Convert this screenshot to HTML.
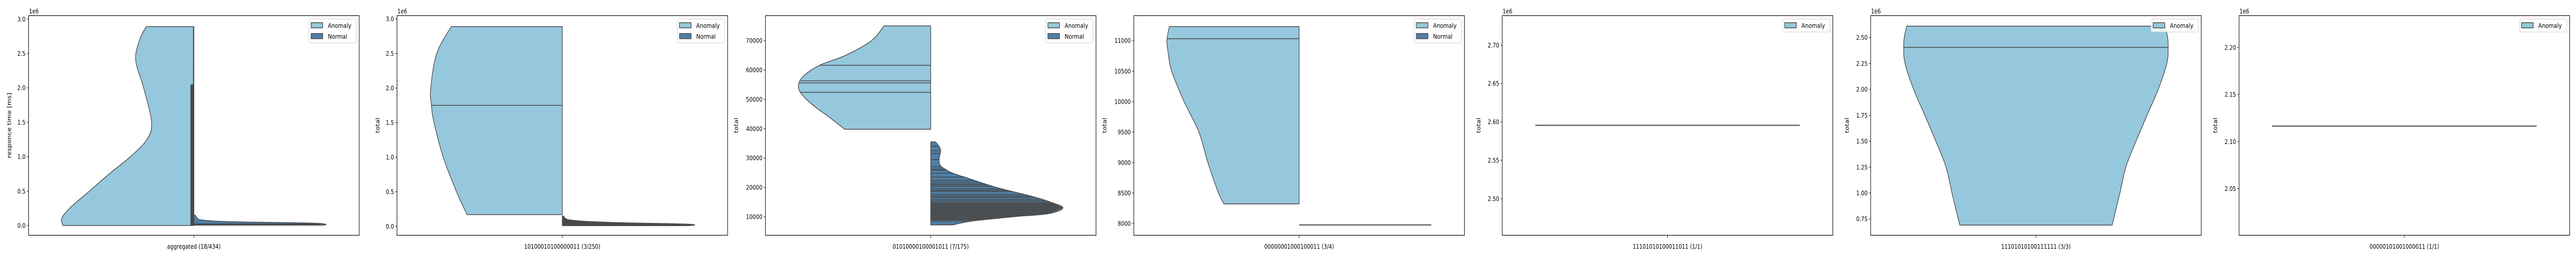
<!DOCTYPE html>
<html><head><meta charset="utf-8">
<style>
html,body{margin:0;padding:0;background:#fff;width:100%;height:100%;overflow:hidden;}
svg{display:block;width:100vw;height:100vh;}
text{font-family:"DejaVu Sans","Liberation Sans",sans-serif;fill:#000;}
</style></head>
<body>
<svg id="fig" viewBox="0 0 6000 500" preserveAspectRatio="none" xmlns="http://www.w3.org/2000/svg"></svg>
<script>
// ---- data ----
const panelLabels = ["aggregated (18/434)","10100010100000011 (3/250)","01010000100001011 (7/175)","00000001000100011 (3/4)","11101010100011011 (1/1)","11101010100111111 (3/3)","00000101001000011 (1/1)"];
const yLabels = ["responce time [ms]","total","total","total","total","total","total"];
const offsetTexts = ["1e6","1e6","","","1e6","1e6","1e6"];
const yDomainsMin = [-0.1424,-0.129,3671,7805,2.4523,0.592,2.0005];
const yDomainsMax = [3.049,3.048,78509,11410,2.7383,2.711,2.2338];
const yTicks0 = [0,0.5,1,1.5,2,2.5,3];
const yTicks1 = [0,0.5,1,1.5,2,2.5,3];
const yTicks2 = [10000,20000,30000,40000,50000,60000,70000];
const yTicks3 = [8000,8500,9000,9500,10000,10500,11000];
const yTicks4 = [2.50,2.55,2.60,2.65,2.70];
const yTicks5 = [0.75,1.00,1.25,1.50,1.75,2.00,2.25,2.50];
const yTicks6 = [2.05,2.10,2.15,2.20];
const tickDecimals = [1,1,0,0,2,2,2];
const legendEntries = [2,2,2,2,1,1,1];

// panel 1 (aggregated)
const p1AnomVals = [2.89,2.7,2.4,2.0,1.5,1.25,1.0,0.75,0.5,0.25,0.1,0.0];
const p1AnomDens = [0.36,0.41,0.44,0.38,0.32,0.355,0.48,0.64,0.79,0.94,1.0,0.99];
const p1NormVals = [0.15,0.1,0.08,0.06,0.05,0.04,0.03,0.015,0.005];
const p1NormDens = [0.01,0.03,0.06,0.2,0.4,0.75,0.95,1.0,0.98];
const p1AnomSticks = [2.89,2.05];
// panel 2
const p2AnomVals = [2.89,2.5,2.0,1.75,1.5,1.0,0.5,0.17];
const p2AnomDens = [0.84,0.95,0.995,0.99,0.97,0.9,0.8,0.72];
const p2AnomQuart = [1.75];
const p2NormVals = [0.15,0.12,0.1,0.09,0.07,0.05,0.04,0.03,0.02,0.01];
const p2NormDens = [0.01,0.02,0.04,0.07,0.2,0.5,0.8,0.97,1.0,0.95];
// panel 3
const p3AnomVals = [75000,70000,65000,61600,58000,55000,52000,48000,44000,39800];
const p3AnomDens = [0.354,0.448,0.643,0.84,0.96,1.0,0.98,0.89,0.77,0.65];
const p3AnomQuart = [61600,56300,55600,52400];
const p3NormVals = [35500,33000,30000,28500,27000,25000,23000,20000,17000,15000,13000,11000,10000,8500,7200];
const p3NormDens = [0.037,0.074,0.065,0.065,0.083,0.158,0.29,0.495,0.76,0.905,1.0,0.885,0.625,0.31,0.167];
const p3NormSticks = [34000,32500,31500,29500,27000,26200,25800,24800,23500,22400,21800,21200,20800,20300,19500,19000,18600,17600,17000,16600,16000,15500,15000,14600,14300,14000,13700,13400,13100,12800,12500,12200,11900,11600,11300,11000,10700,10400,10100,9800,9500,9200,8900,8500];
// panel 4
const p4AnomVals = [11230,11000,10800,10500,10000,9500,9000,8500,8320];
const p4AnomDens = [0.982,1.0,0.99,0.964,0.87,0.758,0.69,0.61,0.568];
const p4AnomQuart = [11030];
const p4NormValue = [7975];
// panel 5
const p5AnomValue = [2.5955];
// panel 6
const p6AnomVals = [2.61,2.5,2.4,2.25,2.0,1.75,1.5,1.25,1.0,0.69];
const p6AnomDens = [0.977,0.996,1.0,0.99,0.925,0.84,0.757,0.68,0.635,0.576];
const p6AnomQuart = [2.405];
// panel 7
const p7AnomValue = [2.1165];

// ---- drawing ----
const NS="http://www.w3.org/2000/svg";
const svg=document.getElementById('fig');
const ANOM="#95c8dd", NORM="#4d7fa8", EDGE="#4a4a4a";
const AX_TOP=30.3, AX_BOT=456, AX_W=770, PITCH=858.1, AX_L0=66.6;
const HALF=0.4*AX_W;
const tickSets=[yTicks0,yTicks1,yTicks2,yTicks3,yTicks4,yTicks5,yTicks6];

function el(tag,attrs,parent){const e=document.createElementNS(NS,tag);for(const k in attrs)e.setAttribute(k,attrs[k]);(parent||svg).appendChild(e);return e;}
function smooth(pts){let d="M"+pts[0][0]+","+pts[0][1];for(let i=0;i<pts.length-1;i++){const p0=pts[Math.max(i-1,0)],p1=pts[i],p2=pts[i+1],p3=pts[Math.min(i+2,pts.length-1)];const c1=[p1[0]+(p2[0]-p0[0])/6,p1[1]+(p2[1]-p0[1])/6],c2=[p2[0]-(p3[0]-p1[0])/6,p2[1]-(p3[1]-p1[1])/6];d+=" C"+c1[0]+","+c1[1]+" "+c2[0]+","+c2[1]+" "+p2[0]+","+p2[1];}return d;}
function densAt(vals,dens,v){for(let i=0;i<vals.length-1;i++){const a=vals[i],b=vals[i+1];if((v<=a&&v>=b)){const t=(a-v)/(a-b);return dens[i]+(dens[i+1]-dens[i])*t;}}return dens[dens.length-1];}

function violin(g,cx,y,vals,dens,side,color,name){
  let d;
  if(side===0){
    const L=vals.map((v,i)=>[cx-dens[i]*HALF,y(v)]);
    const R=vals.map((v,i)=>[cx+dens[i]*HALF,y(v)]).reverse();
    d=smooth(L)+" L"+R[0][0]+","+R[0][1]+" "+smooth(R).slice(1).replace(/^[^C]*/,"")+" Z";
  } else {
    const P=vals.map((v,i)=>[cx+side*dens[i]*HALF,y(v)]);
    d=smooth(P)+" L"+cx+","+y(vals[vals.length-1])+" L"+cx+","+y(vals[0])+" Z";
  }
  const p=el('path',{d:d,fill:color,stroke:EDGE,'stroke-width':1.5,'stroke-linejoin':'round'},g);
  
  
}
function hline(g,cx,y,v,w0,w1,color,sw,name){
  const l=el('line',{x1:cx+w0*HALF,x2:cx+w1*HALF,y1:y(v),y2:y(v),stroke:color,'stroke-width':sw},g);
  
  
}

for(let i=0;i<7;i++){
  const L=AX_L0+PITCH*i, R=L+AX_W, cx=L+AX_W/2;
  const mn=yDomainsMin[i], mx=yDomainsMax[i];
  const y=v=>AX_BOT-(v-mn)/(mx-mn)*(AX_BOT-AX_TOP);
  const g=el('g',{});
  
  
  const clip=el('clipPath',{id:'c'+i},g);el('rect',{x:L,y:AX_TOP,width:AX_W,height:AX_BOT-AX_TOP},clip);
  const plot=el('g',{'clip-path':'url(#c'+i+')'},g);
  
  

  if(i===0){
    violin(plot,cx,y,p1AnomVals,p1AnomDens,-1,ANOM,'violin-anomaly');
    violin(plot,cx,y,p1NormVals,p1NormDens,1,NORM,'violin-normal');
    hline(plot,cx,y,0.02,0,0.95,EDGE,2.5,'normal-stick');
    const s1=el('line',{x1:cx-1,x2:cx-1,y1:y(p1AnomSticks[0]),y2:y(0),stroke:EDGE,'stroke-width':2},plot);
    
    
    const s2=el('rect',{x:cx-8,y:y(p1AnomSticks[1]),width:7,height:y(0)-y(p1AnomSticks[1]),fill:EDGE},plot);
    
    
  } else if(i===1){
    violin(plot,cx,y,p2AnomVals,p2AnomDens,-1,ANOM,'violin-anomaly');
    violin(plot,cx,y,p2NormVals,p2NormDens,1,EDGE,'violin-normal');
    p2AnomQuart.forEach(q=>hline(plot,cx,y,q,-densAt(p2AnomVals,p2AnomDens,q),0,EDGE,1.5,'anomaly-quartile'));
  } else if(i===2){
    violin(plot,cx,y,p3AnomVals,p3AnomDens,-1,ANOM,'violin-anomaly');
    violin(plot,cx,y,p3NormVals,p3NormDens,1,NORM,'violin-normal');
    p3AnomQuart.forEach(q=>hline(plot,cx,y,q,-densAt(p3AnomVals,p3AnomDens,q),0,EDGE,1.5,'anomaly-quartile'));
    p3NormSticks.forEach(q=>hline(plot,cx,y,q,0,densAt(p3NormVals,p3NormDens,q),EDGE,1.6,'normal-stick'));
  } else if(i===3){
    violin(plot,cx,y,p4AnomVals,p4AnomDens,-1,ANOM,'violin-anomaly');
    p4AnomQuart.forEach(q=>hline(plot,cx,y,q,-densAt(p4AnomVals,p4AnomDens,q),0,EDGE,1.5,'anomaly-quartile'));
    hline(plot,cx,y,p4NormValue[0],0,1,"#666",2.5,'violin-normal-flat');
  } else if(i===4){
    hline(plot,cx,y,p5AnomValue[0],-1,1,"#666",2.5,'violin-anomaly-flat');
  } else if(i===5){
    violin(plot,cx,y,p6AnomVals,p6AnomDens,0,ANOM,'violin-anomaly');
    p6AnomQuart.forEach(q=>{const w=densAt(p6AnomVals,p6AnomDens,q);hline(plot,cx,y,q,-w,w,EDGE,1.5,'anomaly-quartile');});
  } else {
    hline(plot,cx,y,p7AnomValue[0],-1,1,"#666",2.5,'violin-anomaly-flat');
  }

  const fr=el('rect',{x:L,y:AX_TOP,width:AX_W,height:AX_BOT-AX_TOP,fill:'none',stroke:'#000','stroke-width':1.2},g);
  
  
  let maxLen=0;
  tickSets[i].forEach(t=>{
    const ty=y(t);
    el('line',{x1:L-4,x2:L,y1:ty,y2:ty,stroke:'#000','stroke-width':1},g);
    const lab=t.toFixed(tickDecimals[i]);maxLen=Math.max(maxLen,lab.length);
    const tx=el('text',{x:L-7,y:ty+4.5,'text-anchor':'end','font-size':12},g);
    tx.textContent=lab;
    
    
  });
  if(offsetTexts[i]){
    const ot=el('text',{x:L+1,y:26,'font-size':12},g);ot.textContent=offsetTexts[i];
    
    
  }
  const yoff=maxLen>=5?69:(maxLen===4?56:46);
  const yl=el('text',{x:0,y:0,'font-size':13,'text-anchor':'middle',transform:'translate('+(L-yoff+5)+',243) rotate(-90)'},g);
  yl.textContent=yLabels[i];
  
  
  el('line',{x1:cx,x2:cx,y1:AX_BOT,y2:AX_BOT+5,stroke:'#000','stroke-width':1},g);
  const xl=el('text',{x:cx,y:482,'text-anchor':'middle','font-size':12},g);
  xl.textContent=panelLabels[i];
  
  
  const n=legendEntries[i];
  const lg=el('g',{},g);
  
  
  const lx=R-117, ly=37;
  el('rect',{x:lx,y:ly,width:110,height:n===2?46:25,rx:3,fill:'#fff','fill-opacity':0.8,stroke:'#ccc','stroke-width':1},lg);
  const names=["Anomaly","Normal"], cols=[ANOM,NORM];
  for(let k=0;k<n;k++){
    const ey=ly+7+k*21;
    const pr=el('rect',{x:lx+5,y:ey,width:27,height:10,fill:cols[k],stroke:EDGE,'stroke-width':1.5},lg);
    
    
    const lt=el('text',{x:lx+44,y:ey+10,'font-size':12.5},lg);
    lt.textContent=names[k];
    
    
  }
}
</script>
</body></html>
